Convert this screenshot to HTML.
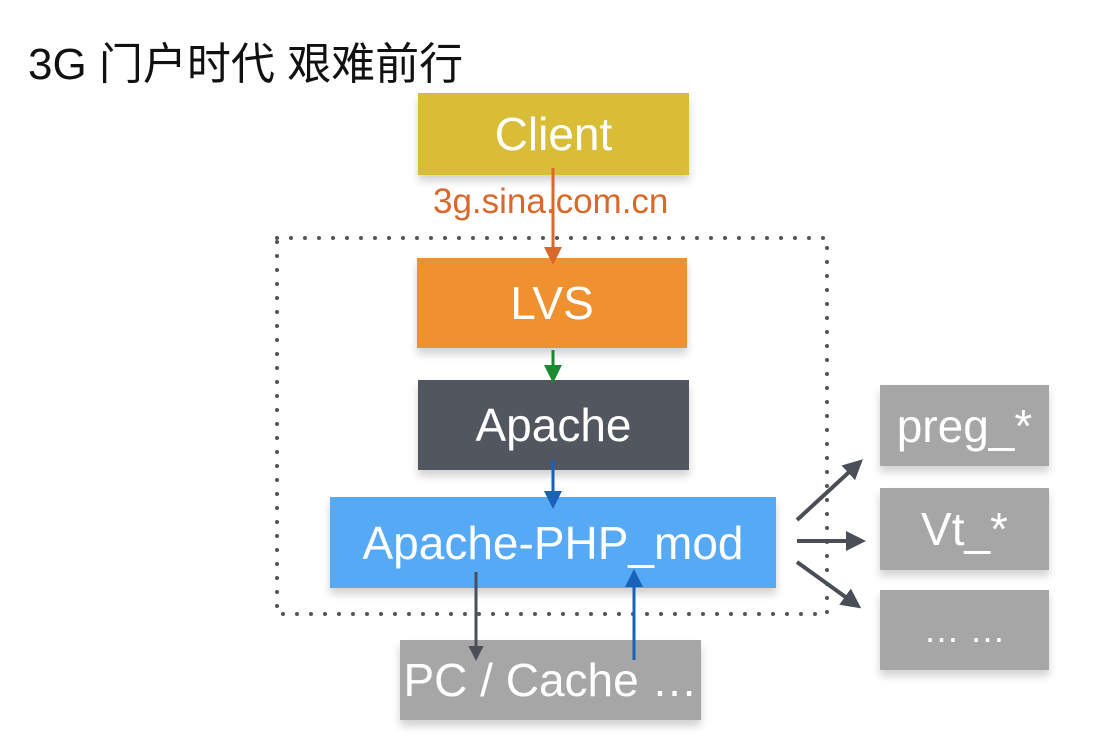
<!DOCTYPE html>
<html><head><meta charset="utf-8"><style>
body{margin:0;width:1095px;height:739px;background:#fff;position:relative;overflow:hidden;font-family:"Liberation Sans","Noto Sans CJK SC",sans-serif}
.b{position:absolute;color:#fff;display:flex;align-items:center;justify-content:center;font-size:46px;box-shadow:0 6px 8px rgba(0,0,0,0.18);white-space:nowrap}
.t{position:absolute;left:28px;top:28px;font-size:44px;color:#111;font-family:"Liberation Sans","Noto Sans CJK SC",sans-serif}
</style></head><body>
<div class="t">3G 门户时代 艰难前行</div>
<svg width="1095" height="739" style="position:absolute;left:0;top:0">
<rect x="277" y="238" width="550" height="376" fill="none" stroke="#555" stroke-width="4" stroke-dasharray="0 14" stroke-linecap="round"/>
</svg>
<div class="b" style="left:418px;top:93px;width:271px;height:82px;background:#d9bd37">Client</div>
<div class="b" style="left:417px;top:258px;width:270px;height:90px;background:#f0912f">LVS</div>
<div class="b" style="left:418px;top:380px;width:271px;height:90px;background:#52565e">Apache</div>
<div class="b" style="left:330px;top:497px;width:446px;height:91px;background:#56a9f5">Apache-PHP_mod</div>
<div class="b" style="left:400px;top:640px;width:301px;height:80px;background:#a5a6a5">PC / Cache …</div>
<div class="b" style="left:880px;top:385px;width:169px;height:81px;background:#a5a6a5">preg_*</div>
<div class="b" style="left:880px;top:488px;width:169px;height:82px;background:#a5a6a5">Vt_*</div>
<div class="b" style="left:880px;top:590px;width:169px;height:80px;background:#a5a6a5;font-size:36px">… …</div>
<div style="position:absolute;left:433px;top:182px;font-size:35px;color:#d9682a">3g.sina.com.cn</div>
<svg width="1095" height="739" style="position:absolute;left:0;top:0">
<defs>
<marker id="mo" markerWidth="6" markerHeight="6" refX="5" refY="3" orient="auto" markerUnits="strokeWidth"><path d="M0,0L6,3L0,6z" fill="#d9682a"/></marker>
<marker id="mg" markerWidth="6" markerHeight="6" refX="5" refY="3" orient="auto" markerUnits="strokeWidth"><path d="M0,0L6,3L0,6z" fill="#1a8a30"/></marker>
<marker id="mb" markerWidth="6" markerHeight="6" refX="5" refY="3" orient="auto" markerUnits="strokeWidth"><path d="M0,0L6,3L0,6z" fill="#1a62b8"/></marker>
<marker id="md" markerWidth="5" markerHeight="5" refX="4" refY="2.5" orient="auto" markerUnits="strokeWidth"><path d="M0,0L5,2.5L0,5z" fill="#4a4f57"/></marker>
</defs>
<line x1="553" y1="168" x2="553" y2="262" stroke="#d9682a" stroke-width="3" marker-end="url(#mo)"/>
<line x1="553" y1="350" x2="553" y2="380" stroke="#1a8a30" stroke-width="3" marker-end="url(#mg)"/>
<line x1="553" y1="460" x2="553" y2="506" stroke="#1a62b8" stroke-width="3" marker-end="url(#mb)"/>
<line x1="476" y1="572" x2="476" y2="658" stroke="#4a4f57" stroke-width="3" marker-end="url(#mb)" style="marker-end:url(#md)"/>
<line x1="634" y1="660" x2="634" y2="572" stroke="#1a62b8" stroke-width="3" marker-end="url(#mb)"/>
<line x1="797" y1="520" x2="860" y2="462" stroke="#4a4f57" stroke-width="4" marker-end="url(#md)"/>
<line x1="797" y1="541" x2="862" y2="541" stroke="#4a4f57" stroke-width="4" marker-end="url(#md)"/>
<line x1="797" y1="562" x2="858" y2="606" stroke="#4a4f57" stroke-width="4" marker-end="url(#md)"/>
</svg>
</body></html>
